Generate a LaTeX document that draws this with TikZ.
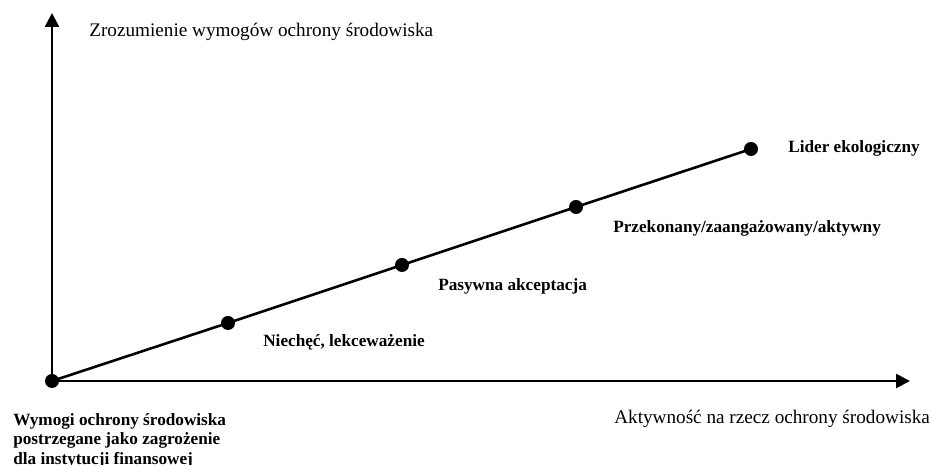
\documentclass[tikz,border=0pt]{standalone}
\usepackage{fontspec}
\setmainfont{Liberation Serif}
\usetikzlibrary{arrows.meta}

\begin{document}
\begin{tikzpicture}[x=0.5pt, y=0.5pt, line width=1.3pt,
  dot/.style={circle, fill, inner sep=0pt, minimum size=7pt},
  stage/.style={font=\fontsize{8.6}{9.75}\selectfont\bfseries, inner sep=0pt, anchor=base west},
  axislabel/.style={font=\fontsize{9.6}{11}\selectfont, inner sep=0pt, anchor=base west}]
  \useasboundingbox (0,0) rectangle (933,465);
  % axes
  \node[dot] (O) at (52,84) {};
  \coordinate (ytop) at (52,452);
  \coordinate (xend) at (910,84);
  \draw[-{Triangle[length=7pt,width=7pt]}] (O.center) -- (ytop);
  \draw[-{Triangle[length=7pt,width=7pt]}] (O.center) -- (xend);
  % stages
  \node[dot] (niechec) at (228,142) {};
  \node[dot] (pasywna) at (402,200) {};
  \node[dot] (przekonany) at (576,258) {};
  \node[dot] (lider) at (751,316) {};
  \draw (O.center) -- (niechec.center) -- (pasywna.center) -- (przekonany.center) -- (lider.center);
  \node[stage] (tniechec) at (262,118) {Niechęć, lekceważenie};
  \node[stage] (tpasywna) at (437,174) {Pasywna akceptacja};
  \node[stage] (tprzekonany) at (612,232) {Przekonany/zaangażowany/aktywny};
  \node[stage] (tlider) at (787,312) {Lider ekologiczny};
  % axis labels
  \node[axislabel] (ylabel) at (88,428) {Zrozumienie wymogów ochrony środowiska};
  \node[axislabel] (xlabel) at (613,41) {Aktywność na rzecz ochrony środowiska};
  \node[stage, anchor=north west, align=left] (start) at (12,53)
    {Wymogi ochrony środowiska\\postrzegane jako zagrożenie\\dla instytucji finansowej};
\end{tikzpicture}
\end{document}
